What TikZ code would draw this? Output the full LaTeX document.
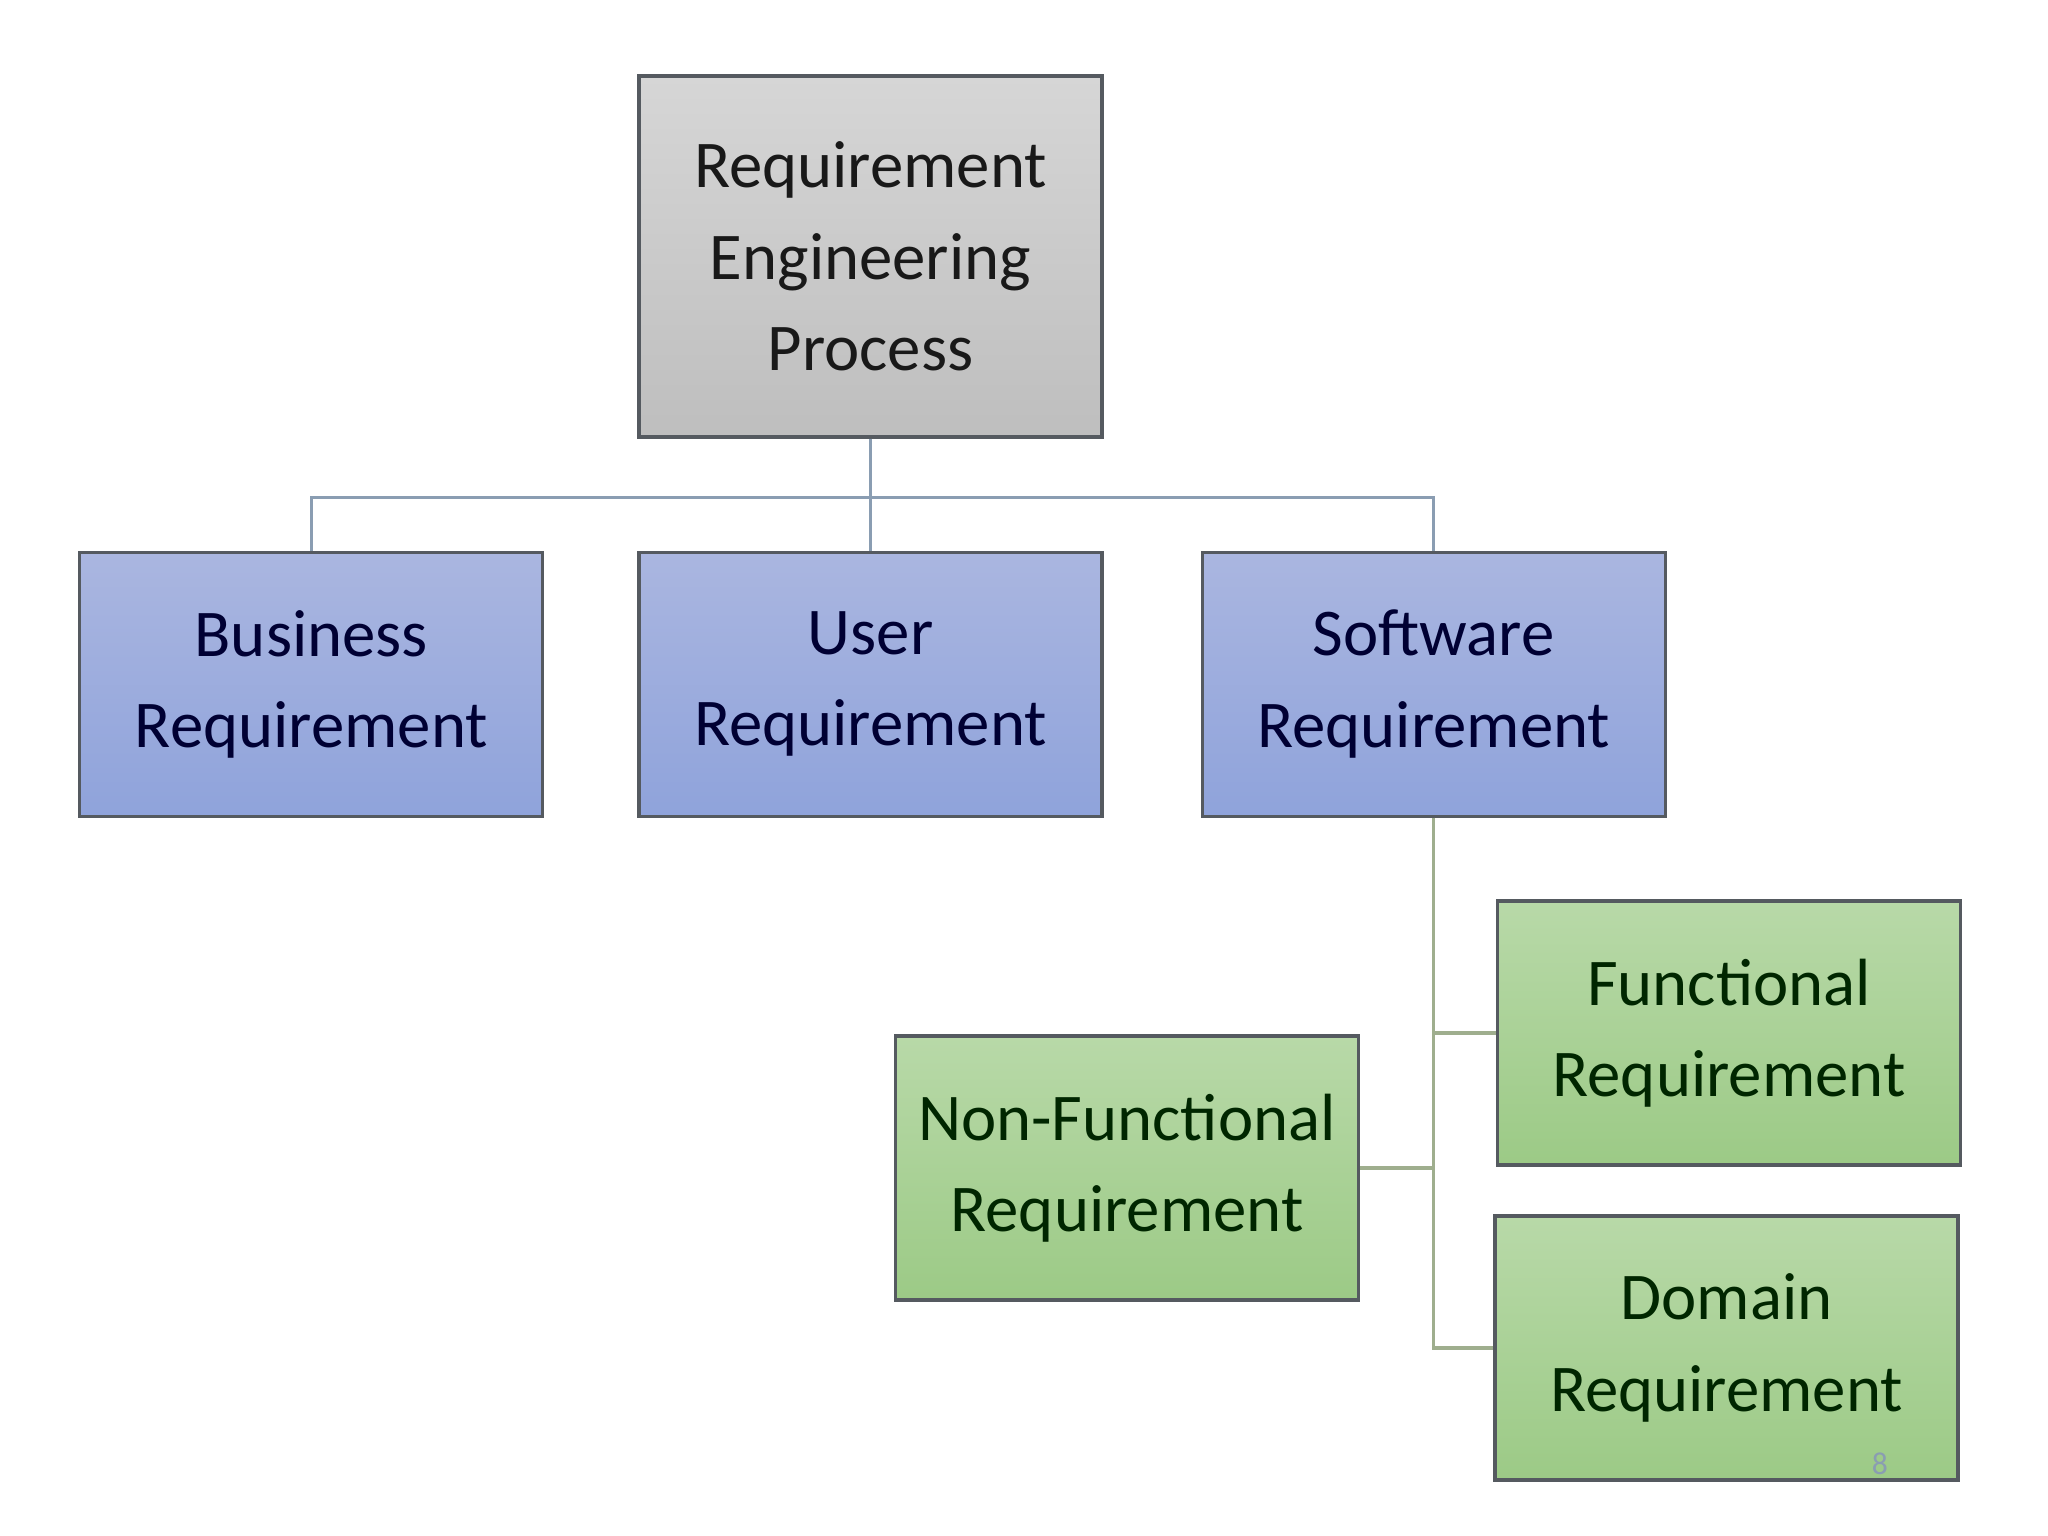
\documentclass[tikz,border=0pt]{standalone}
\usepackage{fontspec}
\setmainfont{Carlito}
\usepackage{xcolor}
\usetikzlibrary{positioning}

\definecolor{greyTop}{HTML}{D6D6D6}
\definecolor{greyBot}{HTML}{BEBEBE}
\definecolor{blueTop}{HTML}{AAB6E0}
\definecolor{blueBot}{HTML}{8FA3DB}
\definecolor{greenTop}{HTML}{B8D9A8}
\definecolor{greenBot}{HTML}{9CCA86}
\definecolor{edge}{HTML}{555A60}
\definecolor{linkBlue}{HTML}{8A9DB2}
\definecolor{linkGreen}{HTML}{9FAE8E}

\begin{document}
\begin{tikzpicture}[
    node distance=0.95cm,
    box/.style={draw=edge, line width=0.9pt, minimum width=4.63cm,
                minimum height=2.64cm, align=center, inner sep=0pt,
                font=\fontsize{19}{26}\selectfont},
    proc/.style={box, top color=greyTop, bottom color=greyBot,
                 minimum height=3.61cm, text=black!90},
    req/.style={box, top color=blueTop, bottom color=blueBot,
                text=blue!20!black},
    sub/.style={box, top color=greenTop, bottom color=greenBot,
                text=green!15!black},
    conn/.style={draw=linkBlue, line width=0.9pt},
    subconn/.style={draw=linkGreen, line width=0.9pt}
  ]
  \useasboundingbox (0,0) rectangle (20.48,-15.36);

  \node[proc] (rep) at (8.705,-2.565) {Requirement\\Engineering\\Process};

  \node[req, below=1.12cm of rep] (usr) {User\\Requirement};
  \node[req, left=0.93cm of usr] (biz) {Business\\Requirement};
  \node[req, right=0.97cm of usr] (sw) {Software\\Requirement};

  \node[sub] (fun) at (17.29,-10.33) {Functional\\Requirement};
  \node[sub] (nonfun) at (11.27,-11.68) {Non-Functional\\Requirement};
  \node[sub] (dom) at (17.265,-13.48) {Domain\\Requirement};

  \node[font=\small, text=linkBlue] (pg) at (18.80,-14.64) {8};

  % top level links
  \draw[conn] (rep) -- (usr);
  \draw[conn] (biz.north) -- ++(0,0.53) -| (sw.north);

  % software requirement links
  \draw[subconn] (sw.south) |- (dom.west);
  \draw[subconn] (fun.west) -- (fun.west -| sw.south);
  \draw[subconn] (nonfun.east) -- (nonfun.east -| sw.south);

\end{tikzpicture}
\end{document}
